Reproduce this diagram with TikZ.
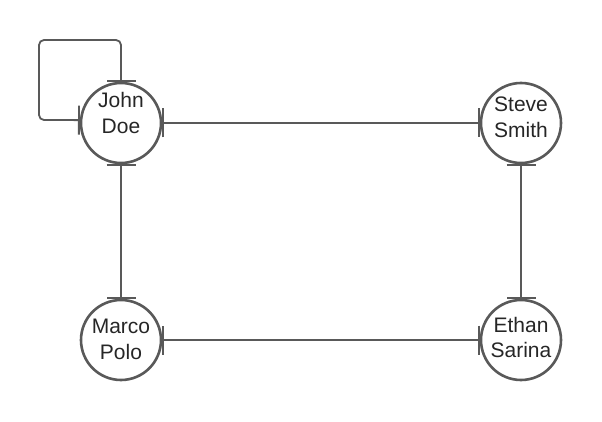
\documentclass[tikz,border=0pt]{standalone}
\usepackage{fontspec}
\setmainfont{Liberation Sans}
\usetikzlibrary{arrows.meta}
\definecolor{linegray}{HTML}{595959}
\newcommand{\twolines}[3][0pt]{\raisebox{#1}[\height][\depth]{%
    \begin{tabular}{@{}c@{}}#2\\#3\end{tabular}}}
\begin{document}
\begin{tikzpicture}[
    x=1pt, y=-1pt,
    person/.style={draw=linegray, circle, line width=2.6pt, minimum size=80pt,
                   inner sep=0pt, text=black!85,
                   font=\fontsize{21}{25.5}\selectfont},
    link/.style={draw=linegray, line width=1.8pt,
                 arrows={Bar[width=29pt]-Bar[width=29pt]}}]
    \useasboundingbox (0,0) rectangle (602,422);
    \node[person] (john)  at (121,123) {\twolines[7.5pt]{John}{Doe}};
    \node[person] (steve) at (521,123) {\twolines[3.5pt]{Steve}{Smith}};
    \node[person] (marco) at (121,340) {\twolines[-1.5pt]{Marco}{Polo}};
    \node[person] (ethan) at (521,340) {\twolines{Ethan}{Sarina}};
    \foreach \a/\b in {john/steve, john/marco, steve/ethan, marco/ethan}
        \draw[link] (\a) -- (\b);
    % self loop on John Doe
    \draw[link, rounded corners=5pt] (john.north) -- (121,40) -- (39,40)
        -- (39,120) -- (john.176);
\end{tikzpicture}
\end{document}
